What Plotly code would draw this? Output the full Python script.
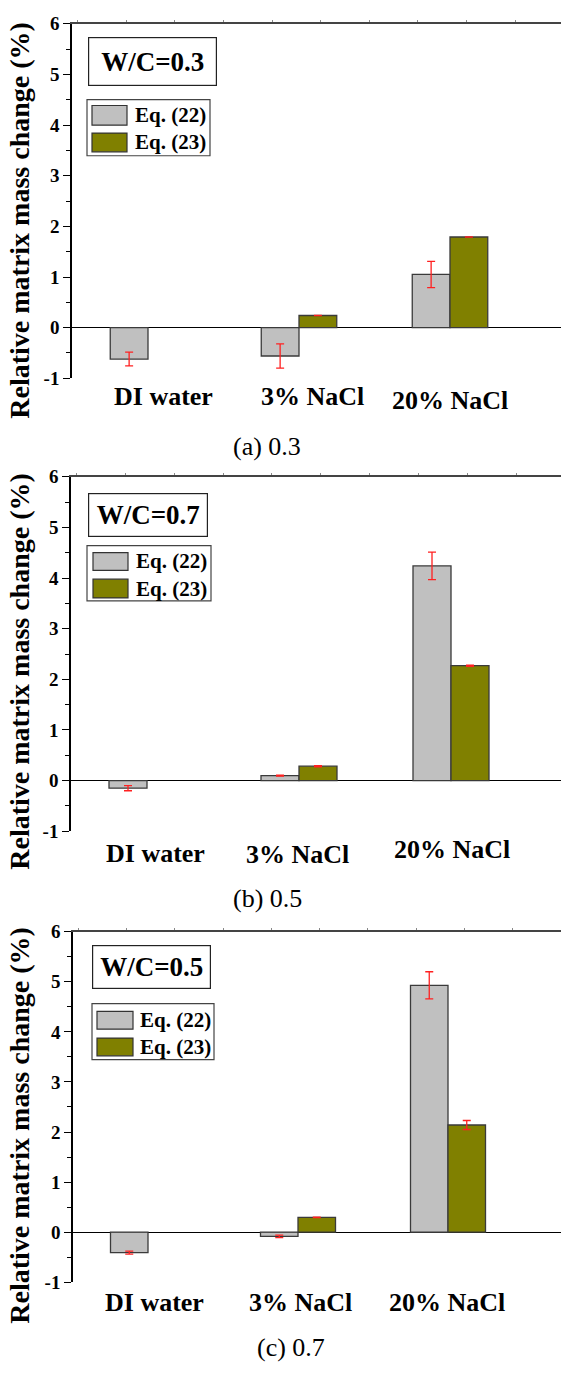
import plotly.graph_objects as go

# ---------------- data ----------------
categories = ["DI water", "3% NaCl", "20% NaCl"]
series_names = ["Eq. (22)", "Eq. (23)"]

panel_tags = ["W/C=0.3", "W/C=0.7", "W/C=0.5"]
panel_captions = ["(a) 0.3", "(b) 0.5", "(c) 0.7"]

eq22_a = [-0.62, -0.56, 1.05]
err22_a = [0.135, 0.24, 0.26]
eq23_a = [None, 0.24, 1.79]
err23_a = [0.0, 0.0, 0.0]

eq22_b = [-0.15, 0.10, 4.24]
err22_b = [0.05, 0.01, 0.27]
eq23_b = [None, 0.285, 2.27]
err23_b = [0.0, 0.012, 0.012]

eq22_c = [-0.41, -0.085, 4.93]
err22_c = [0.03, 0.025, 0.27]
eq23_c = [None, 0.295, 2.14]
err23_c = [0.0, 0.006, 0.09]

ytick_vals = [-1, 0, 1, 2, 3, 4, 5, 6]
ytick_text = ["-1", "0", "1", "2", "3", "4", "5", "6"]
y_title = "Relative matrix mass change (%)"

panel_data = [
    (eq22_a, err22_a, eq23_a, err23_a),
    (eq22_b, err22_b, eq23_b, err23_b),
    (eq22_c, err22_c, eq23_c, err23_c),
]

# ---------------- layout geometry (pixels) ----------------
W, H = 561, 1375
FONT = "Liberation Serif"
GRAY = "#C0C0C0"
OLIVE = "#808000"


def px_x(p):
    return p / W


def px_y(p):
    return 1 - p / H


geom = [
    dict(top=14, bot=374, left=72, c0=148, sp=151,
         wcbox=(88, 28, 217, 77), leg=(87, 91, 210, 148), sw_x=(92, 127),
         rows=[(97, 117), (125, 144)], txt_x=133,
         labels=[(163, 392), (312, 393), (450, 397)], title_c=214,
         cap=(267, 443)),
    dict(top=474, bot=834, left=71, c0=147, sp=152,
         wcbox=(88, 491, 208, 535), leg=(87, 544, 211, 600), sw_x=(93, 128),
         rows=[(551, 569), (578, 597)], txt_x=134,
         labels=[(155, 857), (297, 858), (452, 853)], title_c=672,
         cap=(267, 902)),
    dict(top=936, bot=1292, left=73, c0=148, sp=150,
         wcbox=(92, 950, 211, 994), leg=(92, 1009, 214, 1066), sw_x=(97, 133),
         rows=[(1017, 1035), (1044, 1062)], txt_x=138,
         labels=[(154, 1313), (300, 1313), (447, 1313)], title_c=1133,
         cap=(291, 1358)),
]

fig = go.Figure()
shapes = []
annotations = []
layout_axes = {}

xpos = list(range(len(categories)))

for i, (g, data) in enumerate(zip(geom, panel_data)):
    sfx = "" if i == 0 else str(i + 1)
    xa, ya = "x" + sfx, "y" + sfx
    v22, e22, v23, e23 = data
    for vals, errs, color, name in [(v22, e22, GRAY, series_names[0]),
                                    (v23, e23, OLIVE, series_names[1])]:
        fig.add_trace(go.Bar(
            x=xpos, y=vals, name=name, xaxis=xa, yaxis=ya,
            marker=dict(color=color, line=dict(color="#3a3a3a", width=1.3)),
            error_y=dict(type="data", array=errs, visible=True,
                         color="#ff2020", thickness=1.3, width=4),
            showlegend=False,
        ))

    xmin = -(g["c0"] - g["left"]) / g["sp"]
    xmax = (W - g["c0"]) / g["sp"]
    layout_axes["xaxis" + sfx] = dict(
        domain=[px_x(g["left"]), 1], anchor=ya, range=[xmin, xmax],
        side="top", showline=True, linecolor="#444", linewidth=1.5,
        ticks="outside", ticklen=2, tickcolor="#888", tick0=0.5, dtick=0.322,
        showticklabels=False, showgrid=False, zeroline=False, fixedrange=True,
    )
    layout_axes["yaxis" + sfx] = dict(
        domain=[px_y(g["bot"]), px_y(g["top"])], anchor=xa, range=[-1, 6],
        tickvals=ytick_vals, ticktext=ytick_text,
        ticks="outside", ticklen=7, tickwidth=1.3, tickcolor="black",
        minor=dict(dtick=0.5, tick0=0, ticks="outside", ticklen=4,
                   tickwidth=1.2, tickcolor="black"),
        showline=True, linecolor="black", linewidth=1.6,
        showgrid=False, zeroline=True, zerolinecolor="black", zerolinewidth=1.4,
        tickfont=dict(family=FONT, size=19, color="black", weight="bold"),
        fixedrange=True,
    )

    # W/C tag box
    x0, y0, x1, y1 = g["wcbox"]
    annotations.append(dict(
        text=panel_tags[i], xref="paper", yref="paper",
        x=px_x((x0 + x1) / 2), y=px_y((y0 + y1) / 2),
        xanchor="center", yanchor="middle", showarrow=False,
        width=x1 - x0 - 2, height=y1 - y0 - 2, borderpad=0,
        bordercolor="#222", borderwidth=1.2, bgcolor="white",
        font=dict(family=FONT, size=27, color="black", weight="bold"),
    ))

    # custom legend
    lx0, ly0, lx1, ly1 = g["leg"]
    shapes.append(dict(type="rect", xref="paper", yref="paper",
                       x0=px_x(lx0), x1=px_x(lx1), y0=px_y(ly1), y1=px_y(ly0),
                       line=dict(color="#444", width=1.2), fillcolor="white",
                       layer="above"))
    for (ry0, ry1), color, name in zip(g["rows"], [GRAY, OLIVE], series_names):
        shapes.append(dict(type="rect", xref="paper", yref="paper",
                           x0=px_x(g["sw_x"][0]), x1=px_x(g["sw_x"][1]),
                           y0=px_y(ry1), y1=px_y(ry0),
                           line=dict(color="#333", width=1.2), fillcolor=color,
                           layer="above"))
        annotations.append(dict(
            text=name, xref="paper", yref="paper",
            x=px_x(g["txt_x"]), y=px_y((ry0 + ry1) / 2),
            xanchor="left", yanchor="middle", showarrow=False,
            font=dict(family=FONT, size=21, color="black", weight="bold"),
        ))

    # category labels
    for cat, (cx, cy) in zip(categories, g["labels"]):
        annotations.append(dict(
            text=cat, xref="paper", yref="paper", x=px_x(cx), y=px_y(cy),
            xanchor="center", yanchor="middle", showarrow=False,
            font=dict(family=FONT, size=26, color="black", weight="bold"),
        ))

    # y title
    annotations.append(dict(
        text=y_title, xref="paper", yref="paper", x=px_x(20),
        y=px_y(g["title_c"]), xanchor="center", yanchor="middle",
        textangle=-90, showarrow=False,
        font=dict(family=FONT, size=28, color="black", weight="bold"),
    ))

    # caption
    annotations.append(dict(
        text=panel_captions[i], xref="paper", yref="paper",
        x=px_x(g["cap"][0]), y=px_y(g["cap"][1]),
        xanchor="center", yanchor="middle", showarrow=False,
        font=dict(family=FONT, size=26, color="black"),
    ))

fig.update_layout(
    width=W, height=H, margin=dict(l=0, r=0, t=0, b=0),
    paper_bgcolor="white", plot_bgcolor="white",
    barmode="group", bargap=0.5, bargroupgap=0,
    showlegend=False, shapes=shapes, annotations=annotations,
    font=dict(family=FONT, color="black"),
    **layout_axes,
)

fig.write_html("out.html", config={"displayModeBar": False})
